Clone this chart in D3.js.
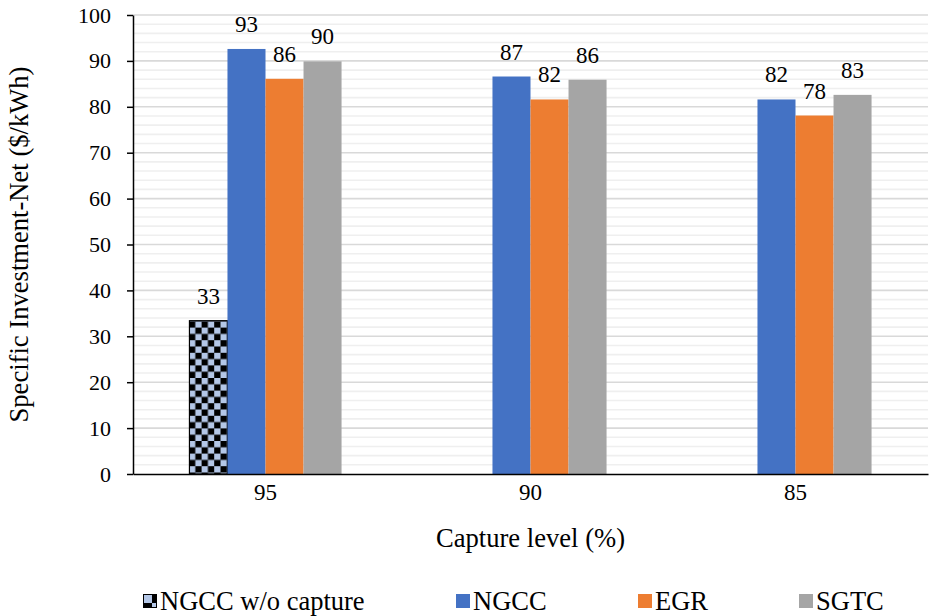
<!DOCTYPE html>
<html>
<head>
<meta charset="utf-8">
<script src="https://cdn.jsdelivr.net/npm/d3@7"></script>
<style>
  html, body { margin: 0; padding: 0; background: #ffffff; }
</style>
</head>
<body>
<svg id="chart" width="932" height="616" font-family="Liberation Serif"></svg>
<script>
// Capture levels (%) on the x axis
const categories = ["95", "90", "85"];
// Series names, in drawing order inside each group
const seriesNames = ["NGCC w/o capture", "NGCC", "EGR", "SGTC"];
// Specific investment-net ($/kWh) per capture level
const wocaptureValues = [33.4, null, null];
const ngccValues = [92.6, 86.6, 81.6];
const egrValues = [86.1, 81.6, 78.1];
const sgtcValues = [89.9, 85.9, 82.6];
// Axis ticks
const yTicks = [0, 10, 20, 30, 40, 50, 60, 70, 80, 90, 100];
const yMinorTicks = d3.range(0, 101, 2).filter(v => v % 10 !== 0);

const seriesValues = [wocaptureValues, ngccValues, egrValues, sgtcValues];
const colors = ["url(#checker)", "#4472c4", "#ed7d31", "#a5a5a5"];
const FONT = "Liberation Serif";

const svg = d3.select("#chart");

// Checkerboard fill for the case without capture
const defs = svg.append("defs");
const pat = defs.append("pattern")
  .attr("id", "checker").attr("patternUnits", "userSpaceOnUse")
  .attr("width", 12.6).attr("height", 12.6);
pat.append("rect").attr("width", 12.6).attr("height", 12.6).attr("fill", "#000");
pat.append("rect").attr("x", 0).attr("y", 0).attr("width", 6.3).attr("height", 6.3).attr("fill", "#b4c7e7");
pat.append("rect").attr("x", 6.3).attr("y", 6.3).attr("width", 6.3).attr("height", 6.3).attr("fill", "#b4c7e7");

const legPat = defs.append("pattern")
  .attr("id", "checkerLegend").attr("patternUnits", "userSpaceOnUse")
  .attr("width", 14).attr("height", 14);
legPat.append("rect").attr("width", 14).attr("height", 14).attr("fill", "#000");
legPat.append("rect").attr("x", 1).attr("y", 1).attr("width", 8).attr("height", 8).attr("fill", "#b4c7e7");
legPat.append("rect").attr("x", 9).attr("y", 9).attr("width", 4).attr("height", 4).attr("fill", "#b4c7e7");

const plotLeft = 133, plotRight = 928, plotTop = 15, plotBottom = 474;

const y = d3.scaleLinear().domain([0, 100]).range([plotBottom, plotTop]);
const x0 = d3.scaleBand().domain(categories).range([plotLeft, plotRight])
  .paddingInner(0.426).paddingOuter(0.213);
const x1 = d3.scaleBand().domain(seriesNames).range([0, x0.bandwidth()]).padding(0);

// Grid lines
svg.append("g").selectAll("line").data(yMinorTicks).join("line")
  .attr("x1", plotLeft).attr("x2", plotRight)
  .attr("y1", d => y(d)).attr("y2", d => y(d))
  .attr("stroke", "#efefef").attr("stroke-width", 1.6);
svg.append("g").selectAll("line").data(yTicks.filter(d => d > 0)).join("line")
  .attr("x1", plotLeft).attr("x2", plotRight)
  .attr("y1", d => y(d)).attr("y2", d => y(d))
  .attr("stroke", "#d9d9d9").attr("stroke-width", 1.6);

// Bars
const rows = [];
categories.forEach((c, i) => {
  seriesNames.forEach((s, j) => {
    const v = seriesValues[j][i];
    if (v != null) rows.push({ cat: c, series: s, idx: j, value: v });
  });
});

svg.append("g").selectAll("rect").data(rows).join("rect")
  .attr("x", d => x0(d.cat) + x1(d.series))
  .attr("y", d => y(d.value))
  .attr("width", x1.bandwidth())
  .attr("height", d => y(0) - y(d.value))
  .attr("fill", d => colors[d.idx])
  .attr("stroke", d => d.idx === 0 ? "#000" : "none")
  .attr("stroke-width", d => d.idx === 0 ? 1.2 : 0);

// Value labels
svg.append("g").selectAll("text").data(rows).join("text")
  .attr("x", d => x0(d.cat) + x1(d.series) + x1.bandwidth() / 2)
  .attr("y", d => y(d.value) - 17)
  .attr("text-anchor", "middle")
  .attr("font-family", FONT).attr("font-size", 23).attr("fill", "#000")
  .text(d => Math.round(d.value));

// Y axis
const yAxis = d3.axisLeft(y).tickValues(yTicks).tickSize(6).tickPadding(16).tickSizeOuter(0);
const yg = svg.append("g").attr("transform", `translate(${plotLeft},0)`).call(yAxis)
  .attr("font-family", FONT).attr("font-size", 22);
yg.select(".domain").attr("stroke", "#000").attr("stroke-width", 1.5);
yg.selectAll(".tick line").attr("stroke", "#000").attr("stroke-width", 1.5);
yg.selectAll(".tick text").attr("fill", "#000")
  .attr("font-family", FONT).attr("font-size", 22);

// X axis
const xAxis = d3.axisBottom(x0).tickSize(0).tickPadding(10).tickSizeOuter(0);
const xg = svg.append("g").attr("transform", `translate(0,${plotBottom})`).call(xAxis)
  .attr("font-family", FONT).attr("font-size", 23);
xg.select(".domain").attr("stroke", "#000").attr("stroke-width", 1.5);
xg.selectAll(".tick text").attr("fill", "#000")
  .attr("font-family", FONT).attr("font-size", 23);

// Axis titles
svg.append("text")
  .attr("x", (plotLeft + plotRight) / 2).attr("y", 547)
  .attr("text-anchor", "middle").attr("fill", "#000")
  .attr("font-family", FONT).attr("font-size", 26.6)
  .text("Capture level (%)");
svg.append("text")
  .attr("transform", `translate(28,${(plotTop + plotBottom) / 2}) rotate(-90)`)
  .attr("text-anchor", "middle").attr("fill", "#000")
  .attr("font-family", FONT).attr("font-size", 26.6)
  .text("Specific Investment-Net ($/kWh)");

// Legend
const legendX = [143, 456, 638, 799];
const legendFills = ["url(#checkerLegend)", "#4472c4", "#ed7d31", "#a5a5a5"];
const leg = svg.append("g").selectAll("g").data(seriesNames).join("g")
  .attr("transform", (d, i) => `translate(${legendX[i]},594)`);
leg.append("rect").attr("width", 14).attr("height", 14)
  .attr("fill", (d, i) => legendFills[i]);
leg.append("text").attr("x", 17).attr("y", 16).attr("fill", "#000")
  .attr("font-family", FONT).attr("font-size", 26.5)
  .text(d => d);
</script>
</body>
</html>
